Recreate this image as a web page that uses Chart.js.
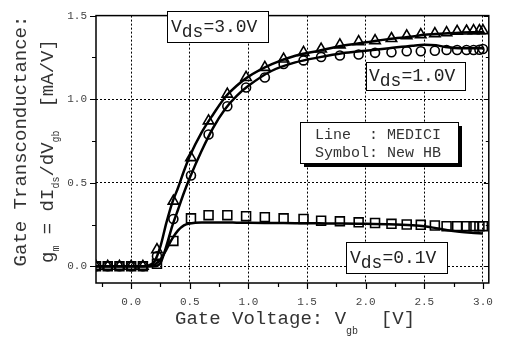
<!DOCTYPE html>
<html>
<head>
<meta charset="utf-8">
<script src="https://cdn.jsdelivr.net/npm/chart.js@4.4.0/dist/chart.umd.min.js"></script>
<style>
  body { margin: 0; background: #fff; }
  #gmChart { display: block; }
</style>
</head>
<body>
<canvas id="gmChart" width="505" height="339"></canvas>
<script>
// symbols: New HB
const vgbPoints = [-0.3, -0.2, -0.1, 0.0, 0.1, 0.22, 0.36, 0.51, 0.66, 0.82, 0.98, 1.14, 1.30, 1.47, 1.62, 1.78, 1.94, 2.08, 2.22, 2.35, 2.47, 2.59, 2.69, 2.78, 2.86, 2.92, 2.97, 3.0];
const hb30 = [0, 0, 0, 0, 0, 0.10, 0.39, 0.65, 0.87, 1.03, 1.13, 1.19, 1.24, 1.28, 1.30, 1.325, 1.344, 1.35, 1.363, 1.379, 1.386, 1.392, 1.398, 1.406, 1.408, 1.41, 1.41, 1.41];
const hb10 = [0, 0, 0, 0, 0, 0.06, 0.283, 0.543, 0.789, 0.958, 1.07, 1.13, 1.21, 1.232, 1.252, 1.261, 1.267, 1.277, 1.281, 1.287, 1.287, 1.29, 1.294, 1.294, 1.294, 1.294, 1.296, 1.30];
const hb01 = [0, 0, 0, 0, 0, 0.015, 0.152, 0.287, 0.306, 0.306, 0.300, 0.294, 0.287, 0.283, 0.273, 0.269, 0.263, 0.259, 0.254, 0.250, 0.248, 0.244, 0.240, 0.240, 0.240, 0.240, 0.240, 0.240];

// lines: MEDICI
const vgbLine = [-0.3, -0.1, 0.1, 0.15, 0.2, 0.25, 0.3, 0.35, 0.4, 0.45, 0.5, 0.6, 0.7, 0.8, 0.9, 1.0, 1.2, 1.4, 1.6, 1.8, 2.0, 2.2, 2.4, 2.5, 2.6, 2.7, 2.8, 2.9, 3.0];
const medici30 = [0, 0, 0, 0.005, 0.03, 0.12, 0.26, 0.38, 0.47, 0.57, 0.66, 0.80, 0.91, 1.01, 1.08, 1.135, 1.21, 1.26, 1.29, 1.32, 1.34, 1.36, 1.375, 1.385, 1.39, 1.395, 1.398, 1.40, 1.40];
const medici10 = [0, 0, 0, 0, 0, 0.02, 0.12, 0.24, 0.34, 0.44, 0.53, 0.69, 0.83, 0.94, 1.02, 1.08, 1.17, 1.22, 1.25, 1.275, 1.29, 1.305, 1.32, 1.325, 1.322, 1.31, 1.305, 1.305, 1.305];
const medici01 = [0, 0, 0, 0, 0.01, 0.04, 0.10, 0.165, 0.215, 0.245, 0.256, 0.262, 0.262, 0.262, 0.261, 0.26, 0.259, 0.258, 0.257, 0.256, 0.254, 0.252, 0.246, 0.24, 0.228, 0.215, 0.206, 0.2, 0.196];

const xTicks = [0.0, 0.5, 1.0, 1.5, 2.0, 2.5, 3.0];
const yTicks = [0.0, 0.5, 1.0, 1.5];

const MONO = '"Liberation Mono", "DejaVu Sans Mono", monospace';

function xy(xs, ys) {
    return xs.map((x, i) => ({ x: x, y: ys[i] }));
}

function lineSet(ys) {
    return {
        data: xy(vgbLine, ys),
        showLine: true,
        borderColor: '#000',
        borderWidth: 2.5,
        pointRadius: 0,
        cubicInterpolationMode: 'monotone'
    };
}

function markSet(ys, style, r) {
    return {
        data: xy(vgbPoints, ys),
        showLine: false,
        pointStyle: style,
        pointRadius: r,
        borderColor: '#000',
        borderWidth: 1.6,
        backgroundColor: 'rgba(0,0,0,0)'
    };
}

// draw text runs with subscripts, left to right from x
function drawRuns(ctx, runs, x, y, size, subSize, subShift) {
    runs.forEach(r => {
        const sub = r[1];
        ctx.font = (sub ? subSize : size) + 'px ' + MONO;
        ctx.fillText(r[0], x, sub ? y + subShift : y);
        x += ctx.measureText(r[0]).width;
    });
    return x;
}

function labelBox(ctx, x, y, w, h, shadow) {
    if (shadow) {
        ctx.fillStyle = '#000';
        ctx.fillRect(x + 4, y + 4, w, h);
    }
    ctx.fillStyle = '#fff';
    ctx.fillRect(x, y, w, h);
    ctx.strokeStyle = '#000';
    ctx.lineWidth = 1;
    ctx.strokeRect(x + 0.5, y + 0.5, w, h);
}

const decor = {
    id: 'decor',
    beforeDatasetsDraw(chart) {
        const ctx = chart.ctx;
        const a = chart.chartArea;
        const xs = chart.scales.x, ys = chart.scales.y;
        ctx.save();
        ctx.strokeStyle = '#000';
        ctx.lineWidth = 1.5;
        ctx.strokeRect(a.left, a.top, a.right - a.left, a.bottom - a.top);
        ctx.lineWidth = 1.2;
        ctx.beginPath();
        for (let v = -0.25; v <= 3.01; v += 0.25) {
            const px = Math.round(xs.getPixelForValue(v)) + 0.5;
            const major = Math.abs(v * 2 - Math.round(v * 2)) < 1e-6;
            ctx.moveTo(px, a.bottom);
            ctx.lineTo(px, a.bottom + (major ? 6 : 4));
        }
        for (let v = 0; v <= 1.51; v += 0.25) {
            const py = Math.round(ys.getPixelForValue(v)) + 0.5;
            const major = Math.abs(v * 2 - Math.round(v * 2)) < 1e-6;
            ctx.moveTo(a.left, py);
            ctx.lineTo(a.left - (major ? 6 : 4), py);
            ctx.moveTo(a.right, py);
            ctx.lineTo(a.right - (major ? 5 : 3), py);
        }
        ctx.stroke();
        ctx.restore();
    },
    afterDraw(chart) {
        const ctx = chart.ctx;
        ctx.save();
        ctx.textBaseline = 'alphabetic';
        ctx.textAlign = 'left';

        // Vds boxes
        labelBox(ctx, 167, 11, 101, 31, false);
        ctx.fillStyle = '#222';
        drawRuns(ctx, [['V', false], ['ds', true], ['=3.0V', false]], 171, 32, 18, 18, 5);
        labelBox(ctx, 366, 62, 99, 28, false);
        ctx.fillStyle = '#222';
        drawRuns(ctx, [['V', false], ['ds', true], ['=1.0V', false]], 369, 81, 18, 18, 5);
        labelBox(ctx, 346, 242, 101, 31, false);
        ctx.fillStyle = '#222';
        drawRuns(ctx, [['V', false], ['ds', true], ['=0.1V', false]], 350, 263, 18, 18, 5);

        // legend box
        labelBox(ctx, 300, 122, 158, 41, true);
        ctx.fillStyle = '#333';
        ctx.font = '15px ' + MONO;
        ctx.fillText('Line  : MEDICI', 315, 139);
        ctx.fillText('Symbol: New HB', 315, 157);

        // x title
        ctx.fillStyle = '#333';
        drawRuns(ctx, [['Gate Voltage: V', false], ['gb', true], ['  [V]', false]], 175, 324, 19, 10, 10);

        // y title (rotated)
        ctx.translate(26, 141);
        ctx.rotate(-Math.PI / 2);
        ctx.font = '19px ' + MONO;
        ctx.textAlign = 'center';
        ctx.fillText('Gate Transconductance:', 0, 0);
        ctx.textAlign = 'left';
        drawRuns(ctx, [['g', false], ['m', true], [' = dI', false], ['ds', true], ['/dV', false], ['gb', true], ['  [mA/V]', false]],
            -122, 27, 19, 10, 6);
        ctx.restore();
    }
};

new Chart(document.getElementById('gmChart'), {
    type: 'scatter',
    data: {
        datasets: [
            lineSet(medici30),
            lineSet(medici10),
            lineSet(medici01),
            markSet(hb30, 'triangle', 6),
            markSet(hb10, 'circle', 4.5),
            markSet(hb01, 'rect', 6.3)
        ]
    },
    options: {
        responsive: false,
        animation: false,
        devicePixelRatio: 1,
        layout: { padding: { top: 6, right: 11, left: 0, bottom: 0 } },
        plugins: {
            legend: { display: false },
            tooltip: { enabled: false }
        },
        scales: {
            x: {
                type: 'linear',
                min: -0.3,
                max: 3.05,
                afterBuildTicks: s => { s.ticks = xTicks.map(v => ({ value: v })); },
                afterFit: s => { s.height = 56; },
                grid: { color: '#000', lineWidth: 1, drawTicks: false },
                border: { display: false, dash: [2, 2] },
                ticks: {
                    padding: 12,
                    color: '#444',
                    font: { family: MONO, size: 11 },
                    callback: v => v.toFixed(1)
                }
            },
            y: {
                type: 'linear',
                min: -0.1,
                max: 1.5,
                afterBuildTicks: s => { s.ticks = yTicks.map(v => ({ value: v })); },
                afterFit: s => { s.width = 96; },
                grid: { color: '#000', lineWidth: 1, drawTicks: false },
                border: { display: false, dash: [2, 2] },
                ticks: {
                    padding: 9,
                    color: '#444',
                    font: { family: MONO, size: 11 },
                    callback: v => v.toFixed(1)
                }
            }
        }
    },
    plugins: [decor]
});
</script>
</body>
</html>
